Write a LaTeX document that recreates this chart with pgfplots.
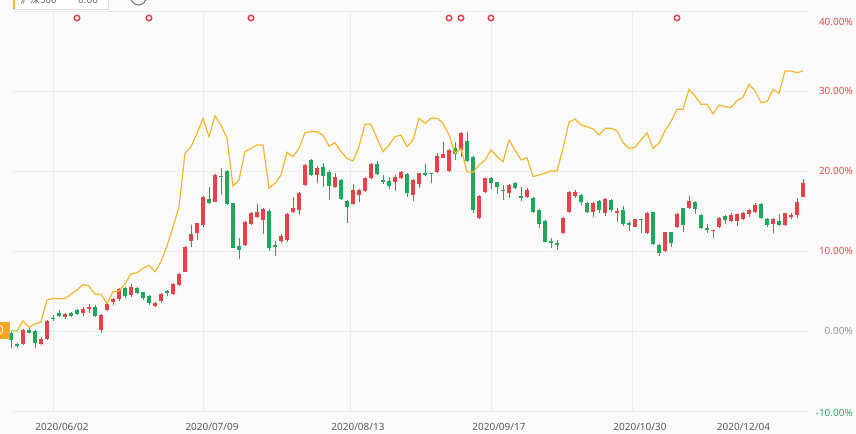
\documentclass[border=0pt]{standalone}
\usepackage{fontspec}
\setmainfont{Noto Sans}
\newfontfamily\cjk{Noto Sans CJK SC}
\usepackage{pgfplots}
\usepackage{pgfplotstable}
\pgfplotsset{compat=1.18}
\definecolor{cUp}{RGB}{232,65,74}
\definecolor{cDown}{RGB}{32,168,90}
\definecolor{cLine}{RGB}{243,183,45}
\definecolor{cGrid}{RGB}{236,236,236}
\definecolor{cBg}{RGB}{250,250,250}
\definecolor{cUpTxt}{RGB}{231,76,80}
\definecolor{cDownTxt}{RGB}{38,166,110}
\definecolor{cZeroTxt}{RGB}{150,150,150}
\definecolor{cDate}{RGB}{90,90,90}
\definecolor{cOrange}{RGB}{245,166,35}

% x = trading-day index, o/c/h/l = candle (percent), r = index line (percent)
\pgfplotstableread{
x o c h l r
0 -0.29 -1.13 0.04 -2.16 0.00
1 -1.66 -1.91 -1.46 -2.16 0.00
2 -1.66 0.13 0.21 -1.75 1.25
3 0.13 -0.21 0.34 -0.29 0.46
4 0.00 -1.54 0.13 -2.16 0.88
5 -1.66 -0.96 -0.71 -1.75 1.13
6 -1.04 1.25 1.38 -1.13 3.88
7 1.63 1.50 2.00 1.25 4.09
8 2.21 1.88 2.63 1.79 4.04
9 1.71 2.13 2.21 1.46 4.04
10 2.21 1.91 2.38 1.71 4.59
11 2.63 2.13 2.75 2.00 5.13
12 2.21 2.75 3.04 1.88 5.79
13 2.75 3.04 3.34 2.29 5.63
14 2.96 1.88 3.25 1.79 4.59
15 0.13 2.00 2.13 -0.21 4.59
16 2.63 3.34 3.46 2.54 3.46
17 3.59 3.96 4.09 3.25 4.91
18 3.96 5.25 5.41 3.79 5.00
19 5.34 4.38 5.46 4.09 5.88
20 4.46 5.46 5.88 4.21 7.13
21 5.41 4.79 5.54 4.63 7.29
22 4.84 4.09 4.91 3.88 7.84
23 4.38 3.54 4.50 3.25 8.21
24 3.13 3.46 3.59 3.04 7.41
25 3.75 4.59 4.79 3.54 8.66
26 5.00 4.79 5.13 4.38 10.63
27 4.63 5.88 6.04 4.50 13.04
28 5.75 7.13 7.21 5.63 15.54
29 7.41 10.54 10.63 7.34 22.21
30 11.29 12.09 13.25 10.46 23.04
31 12.29 13.46 13.54 11.38 24.71
32 13.25 16.71 16.88 13.04 26.59
33 16.46 15.96 18.04 15.84 24.29
34 16.16 19.50 19.59 16.09 26.91
35 19.41 19.25 20.34 17.00 25.75
36 20.00 15.91 20.13 15.75 24.09
37 16.04 10.41 16.04 10.34 18.13
38 10.59 10.16 11.59 9.00 18.88
39 10.75 13.66 13.75 10.66 22.41
40 13.38 14.71 14.84 13.25 22.84
41 14.21 14.91 15.84 14.09 23.25
42 13.88 15.25 15.34 12.09 23.25
43 15.00 10.41 15.25 10.00 17.84
44 10.75 10.54 11.25 9.41 18.46
45 11.25 11.88 12.09 11.04 19.50
46 11.38 14.63 14.71 11.16 22.34
47 14.84 15.41 16.79 14.71 21.79
48 15.13 17.21 17.34 14.50 22.84
49 18.25 20.75 20.84 18.16 24.79
50 21.38 19.50 21.46 19.41 24.91
51 19.50 20.41 20.66 18.46 24.91
52 20.50 19.41 20.96 18.04 24.50
53 19.91 18.16 20.13 16.38 23.13
54 18.04 19.29 19.71 17.91 23.54
55 18.88 16.46 19.00 16.38 22.41
56 16.25 15.54 16.38 13.46 21.59
57 15.84 17.63 18.34 15.75 21.25
58 17.00 17.63 17.75 16.09 23.04
59 17.50 19.16 19.25 17.41 25.84
60 19.09 20.84 20.96 19.00 25.84
61 20.84 19.59 21.25 19.50 24.09
62 18.88 18.59 19.50 18.34 22.41
63 18.75 18.16 19.29 17.75 23.25
64 18.59 19.29 19.50 17.50 24.29
65 19.09 19.91 20.00 19.00 24.50
66 19.59 17.21 19.71 16.79 23.04
67 17.00 18.88 18.96 16.25 23.88
68 18.34 19.71 19.79 17.84 26.59
69 19.71 19.50 20.84 19.41 25.96
70 19.71 19.63 19.71 18.46 26.59
71 19.84 21.91 22.21 19.71 26.59
72 21.66 22.09 23.66 21.59 25.96
73 20.00 22.63 22.71 19.91 24.50
74 22.84 22.09 23.59 21.38 22.21
75 22.63 24.71 24.84 21.79 22.84
76 23.75 21.25 24.84 21.16 19.91
77 21.79 15.13 21.91 14.71 19.84
78 14.09 16.91 17.00 14.00 20.75
79 17.34 19.09 19.16 17.21 21.38
80 19.16 18.46 19.25 17.75 22.63
81 18.59 17.96 18.66 17.09 21.79
82 17.63 17.46 18.25 16.38 21.16
83 17.21 18.25 18.38 16.66 23.88
84 18.46 17.91 18.66 17.75 22.63
85 16.91 16.66 18.04 16.25 21.38
86 16.79 17.63 17.84 16.66 21.66
87 16.66 14.84 16.79 14.71 19.29
88 15.13 13.34 15.21 12.91 19.50
89 13.75 11.16 13.84 11.09 19.71
90 11.25 11.00 11.66 10.41 20.00
91 10.96 10.75 11.38 10.13 20.00
92 12.21 14.16 14.29 12.09 22.84
93 14.84 17.41 17.50 14.71 26.09
94 16.91 17.41 17.63 16.66 26.50
95 17.00 16.09 17.09 15.75 25.75
96 15.96 14.84 16.09 14.71 25.54
97 14.91 15.96 16.09 14.29 25.25
98 16.25 15.13 16.38 14.71 24.50
99 14.71 16.46 16.59 14.38 25.34
100 16.38 15.13 16.46 14.91 25.34
101 14.79 15.04 15.34 13.66 25.04
102 15.13 13.38 15.63 13.13 23.54
103 13.46 13.29 13.79 12.54 22.84
104 13.04 13.96 14.04 12.96 22.96
105 13.96 13.84 14.04 12.29 23.88
106 12.21 14.71 14.88 12.13 24.79
107 14.88 10.84 14.91 10.75 22.84
108 10.75 9.79 10.84 9.38 23.46
109 10.04 12.34 12.41 9.91 25.04
110 12.34 11.04 12.41 10.46 26.16
111 12.96 14.63 14.71 12.84 27.71
112 15.34 13.25 15.41 12.41 27.71
113 15.34 16.29 16.88 15.21 30.21
114 16.16 15.29 16.29 14.63 29.38
115 14.46 12.91 14.59 12.79 28.34
116 12.88 12.63 13.38 12.29 28.34
117 12.54 12.59 12.63 11.59 27.13
118 12.96 14.09 14.21 12.84 28.25
119 14.38 13.88 14.46 13.38 28.04
120 13.79 14.50 14.71 13.66 27.96
121 13.79 14.63 14.71 13.13 28.79
122 13.96 14.79 14.91 13.84 29.21
123 14.59 15.13 15.21 14.21 30.84
124 14.91 15.75 16.04 14.79 30.04
125 15.88 14.09 15.96 14.00 28.54
126 13.96 13.25 14.09 13.04 28.66
127 13.38 13.96 14.09 12.21 30.21
128 13.79 13.21 14.63 13.13 29.71
129 13.21 14.71 14.79 13.13 32.50
130 14.29 14.50 14.71 13.96 32.50
131 14.50 16.16 16.66 14.09 32.29
132 16.79 18.54 18.96 16.71 32.50
}\data

\pgfplotstableread{
x y
11 39.125
23 39.125
40 39.125
73 39.125
75 39.125
80 39.125
111 39.125
}\events

\begin{document}
\begin{tikzpicture}
\begin{axis}[
  name=ax,
  scale only axis, width=856bp, height=434bp,
  xmin=-1.83333, xmax=140.83333, ymin=-12.875, ymax=41.375,
  hide axis, clip=false,
  candle/.style={draw=none, mark=none, mark size=0pt, forget plot},
]
% background
\fill[cBg] (axis cs:-1.83333,-12.875) rectangle (axis cs:140.83333,41.375);
% horizontal grid
\foreach \v in {40,30,20,10,0,-10}{
  \edef\tmp{\noexpand\draw[cGrid, line width=0.9bp] (axis cs:0.333,\v) -- (axis cs:132.8,\v);}\tmp
}
% vertical grid
\foreach \u in {7,32,56.5,80,103.5}{
  \edef\tmp{\noexpand\draw[cGrid, line width=0.9bp] (axis cs:\u,40) -- (axis cs:\u,-10.125);}\tmp
}

% up candles: wicks and bodies
\addplot[candle, restrict expr to domain={\thisrow{c}-\thisrow{o}}{0:100},
  error bars/.cd, y dir=plus, y explicit, error mark=none,
  error bar style={line width=1bp, draw=cUp}]
  table[x=x, y=l, y error plus expr=\thisrow{h}-\thisrow{l}] {\data};
\addplot[candle, restrict expr to domain={\thisrow{c}-\thisrow{o}}{0:100},
  error bars/.cd, y dir=plus, y explicit, error mark=none,
  error bar style={line width=4.6bp, draw=cUp}]
  table[x=x, y=o, y error plus expr={max(\thisrow{c}-\thisrow{o},0.14)}] {\data};
% down candles
\addplot[candle, restrict expr to domain={\thisrow{o}-\thisrow{c}}{0.00001:100},
  error bars/.cd, y dir=plus, y explicit, error mark=none,
  error bar style={line width=1bp, draw=cDown}]
  table[x=x, y=l, y error plus expr=\thisrow{h}-\thisrow{l}] {\data};
\addplot[candle, restrict expr to domain={\thisrow{o}-\thisrow{c}}{0.00001:100},
  error bars/.cd, y dir=plus, y explicit, error mark=none,
  error bar style={line width=4.6bp, draw=cDown}]
  table[x=x, y=c, y error plus expr={max(\thisrow{o}-\thisrow{c},0.14)}] {\data};

% index line
\addplot[cLine, line width=1.2bp, mark=none] table[x=x, y=r] {\data};

% event markers
\addplot[only marks, mark=*, mark size=2.7bp,
  mark options={draw=cUp, fill=white, line width=1.5bp}] table[x=x, y=y] {\events};

% right-hand percent labels
\begingroup
\fontsize{12bp}{14bp}\selectfont
\node[anchor=east, text=cUpTxt, inner sep=0pt] at (axis cs:140.33,38.625) {40.00\%};
\node[anchor=east, text=cUpTxt, inner sep=0pt] at (axis cs:140.33,30) {30.00\%};
\node[anchor=east, text=cUpTxt, inner sep=0pt] at (axis cs:140.33,20) {20.00\%};
\node[anchor=east, text=cUpTxt, inner sep=0pt] at (axis cs:140.33,10) {10.00\%};
\node[anchor=east, text=cZeroTxt, inner sep=0pt] at (axis cs:140.33,0) {0.00\%};
\node[anchor=east, text=cDownTxt, inner sep=0pt] at (axis cs:140.33,-10.25) {-10.00\%};
\endgroup

% date labels
\begingroup
\fontsize{12.5bp}{14bp}\selectfont
\node[text=cDate, inner sep=0pt] at (axis cs:8.5,-12) {2020/06/02};
\node[text=cDate, inner sep=0pt] at (axis cs:33.5,-12) {2020/07/09};
\node[text=cDate, inner sep=0pt] at (axis cs:57.83,-12) {2020/08/13};
\node[text=cDate, inner sep=0pt] at (axis cs:81.33,-12) {2020/09/17};
\node[text=cDate, inner sep=0pt] at (axis cs:104.83,-12) {2020/10/30};
\node[text=cDate, inner sep=0pt] at (axis cs:122.08,-12) {2020/12/04};
\endgroup

% cut-off legend box at the top
\fill[white, draw=black!12, line width=0.6bp] (axis cs:0.333,44) rectangle (axis cs:16.17,40.25);
\fill[cLine] (axis cs:0.333,44) rectangle (axis cs:0.667,40.25);
\begingroup
\fontsize{12bp}{14bp}\selectfont
\node[anchor=base west, text=black!60, inner sep=0pt] at (axis cs:1.5,40.94) {\cjk 沪深300};
\node[anchor=base west, text=black!60, inner sep=0pt] at (axis cs:11.17,40.94) {0.00};
\endgroup
\draw[black!55, line width=1bp] (axis cs:21.25,41.69) circle[radius=7.5bp];

% current-value tag at left
\fill[cOrange] (axis cs:-1.83333,1.125) rectangle (axis cs:-0.1667,-1.0);
\node[anchor=east, text=white, inner sep=0pt, font=\fontsize{12bp}{14bp}\selectfont] at (axis cs:-1.17,0.06) {0};
\end{axis}
\pgfresetboundingbox
\path[use as bounding box] (ax.south west) rectangle (ax.north east);
\end{tikzpicture}
\end{document}
